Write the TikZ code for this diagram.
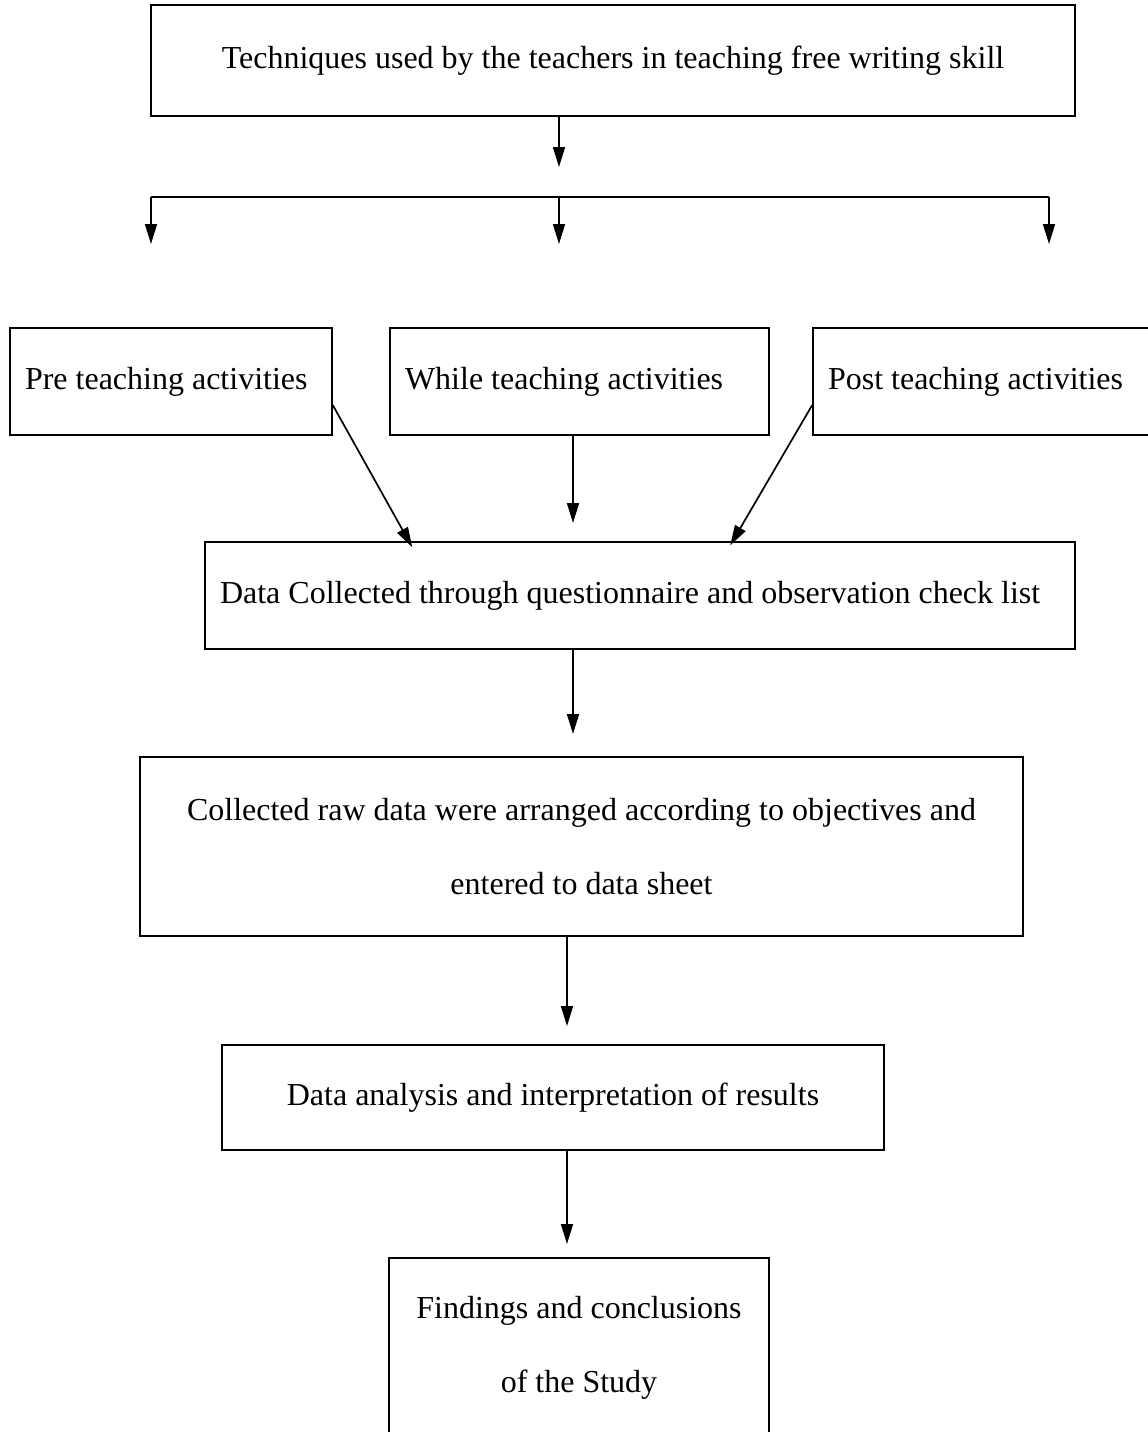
\documentclass[tikz,border=0pt]{standalone}
\usepackage{fontspec}
\setmainfont{Liberation Serif}
\usetikzlibrary{arrows.meta,calc}
\begin{document}
\begin{tikzpicture}[x=1pt,y=-1pt,
  box/.style={draw=black,line width=1.5pt,rectangle,inner sep=0pt,font=\fontsize{32}{74}\selectfont},
  lbox/.style={box,align=flush left,inner xsep=15pt},
  arr/.style={line width=1.7pt,-{Triangle[length=20pt,width=12pt]}},
  ln/.style={line width=1.7pt}]
\useasboundingbox (0,0) rectangle (1148,1432);
\clip (0,0) rectangle (1148,1432);
\node[box,minimum width=924pt,minimum height=111pt] (top) at (613,60.5) {Techniques used by the teachers in teaching free writing skill};
\node[lbox,text width=292pt,minimum height=107pt] (pre) at (171,381.5) {Pre teaching activities};
\node[lbox,text width=349pt,minimum height=107pt] (while) at (579.5,381.5) {While teaching activities};
\node[lbox,text width=309pt,minimum height=107pt] (post) at (982.5,381.5) {Post teaching activities};
\node[lbox,text width=840pt,minimum height=107pt] (data) at (640,595.5) {Data Collected through questionnaire and observation check list};
\node[box,align=center,minimum width=883pt,minimum height=179pt] (coll) at (581.5,846.5) {Collected raw data were arranged according to objectives and\\entered to data sheet};
\node[box,minimum width=662pt,minimum height=105pt] (ana) at (553,1097.5) {Data analysis and interpretation of results};
\node[box,align=center,minimum width=380pt,minimum height=180pt] (find) at (579,1348) {Findings and conclusions\\of the Study};
% top arrows
\coordinate (t1) at (559,167);
\draw[arr] (top.south -| t1) -- (t1);
\coordinate (b0) at (151,197);
\coordinate (b1) at (1049,197);
\coordinate (d0) at (151,244);
\coordinate (d1) at (559,244);
\coordinate (d2) at (1049,244);
\draw[ln] (b0) -- (b1);
\draw[arr] (b0) -- (d0);
\draw[arr] (d1 |- b0) -- (d1);
\draw[arr] (b1) -- (d2);
% to data
\draw[arr] ([yshift=-23.5pt]pre.east) -- ([xshift=208pt,yshift=-6pt]data.north west);
\coordinate (w1) at (573,523);
\draw[arr] (while.south -| w1) -- (w1);
\draw[arr] ([yshift=-23.5pt]post.west) -- ([xshift=526pt,yshift=-4pt]data.north west);
% chain
\coordinate (c1) at (573,734);
\draw[arr] (data.south -| c1) -- (c1);
\coordinate (c2) at (567,1026);
\draw[arr] (coll.south -| c2) -- (c2);
\coordinate (c3) at (567,1244);
\draw[arr] (ana.south -| c3) -- (c3);
\end{tikzpicture}
\end{document}
